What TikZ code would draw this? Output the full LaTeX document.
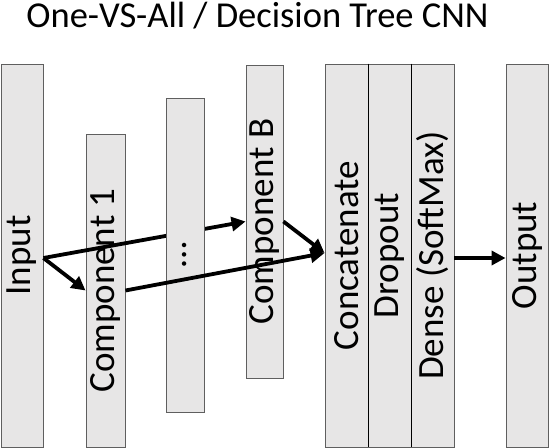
\documentclass[tikz,border=0pt]{standalone}
\usepackage{fontspec}
\setmainfont{Carlito}
\usetikzlibrary{arrows.meta,calc}
\definecolor{boxfill}{HTML}{E7E6E6}
\definecolor{boxline}{HTML}{5F5F5F}
\tikzset{
  layer/.style={draw=boxline, fill=boxfill, line width=0.9pt, inner sep=0pt,
    minimum width=#1, font=\fontsize{37}{40}\selectfont},
  conn/.style={line width=3.8pt, -{Triangle[length=14pt,width=14pt]}},
  divider/.style={draw=black, line width=1pt}
}
\begin{document}
\begin{tikzpicture}[x=1pt,y=-1pt]
\useasboundingbox (0,0) rectangle (550,448);
\node[anchor=base, font=\fontsize{36.5}{40}\selectfont] (title) at (257.5,27) {One-VS-All / Decision Tree CNN};
\node[layer=42pt, minimum height=383pt] (in) at (22,255.5) {\rotatebox{90}{Input}};
\node[layer=39pt, minimum height=313pt] (c1) at (105.5,290.5) {\rotatebox{90}{Component 1}};
\node[layer=37pt, minimum height=313pt] (cb) at (264.5,221.5) {\rotatebox{90}{Component B}};
\draw[conn] ([yshift=-2.5pt]in.east) -- (c1.west);
\draw[conn] ([yshift=-2.5pt]in.east) -- (cb.west);
\node[layer=38pt, minimum height=314pt] (dots) at (185,255) {\rotatebox{90}{\dots}};
\node[layer=43pt, minimum height=383pt] (cat) at (346.5,255.5) {\rotatebox{90}{Concatenate}};
\node[layer=43pt, minimum height=383pt] (drop) at (389.5,255.5) {\rotatebox{90}{Dropout}};
\node[layer=43pt, minimum height=383pt] (dense) at (432.5,255.5) {\rotatebox{90}{Dense (SoftMax)}};
\node[layer=42pt, minimum height=383pt] (out) at (527,255.5) {\rotatebox{90}{Output}};
\draw[divider] (cat.north east) -- (cat.south east);
\draw[divider] (drop.north east) -- (drop.south east);
\draw[conn] (c1.east) -- ([yshift=2.5pt]cat.west);
\draw[conn] (cb.east) -- ([yshift=2.5pt]cat.west);
\draw[conn] ([yshift=-2.5pt]dense.east) -- ([yshift=-2.5pt]out.west);
\end{tikzpicture}
\end{document}
